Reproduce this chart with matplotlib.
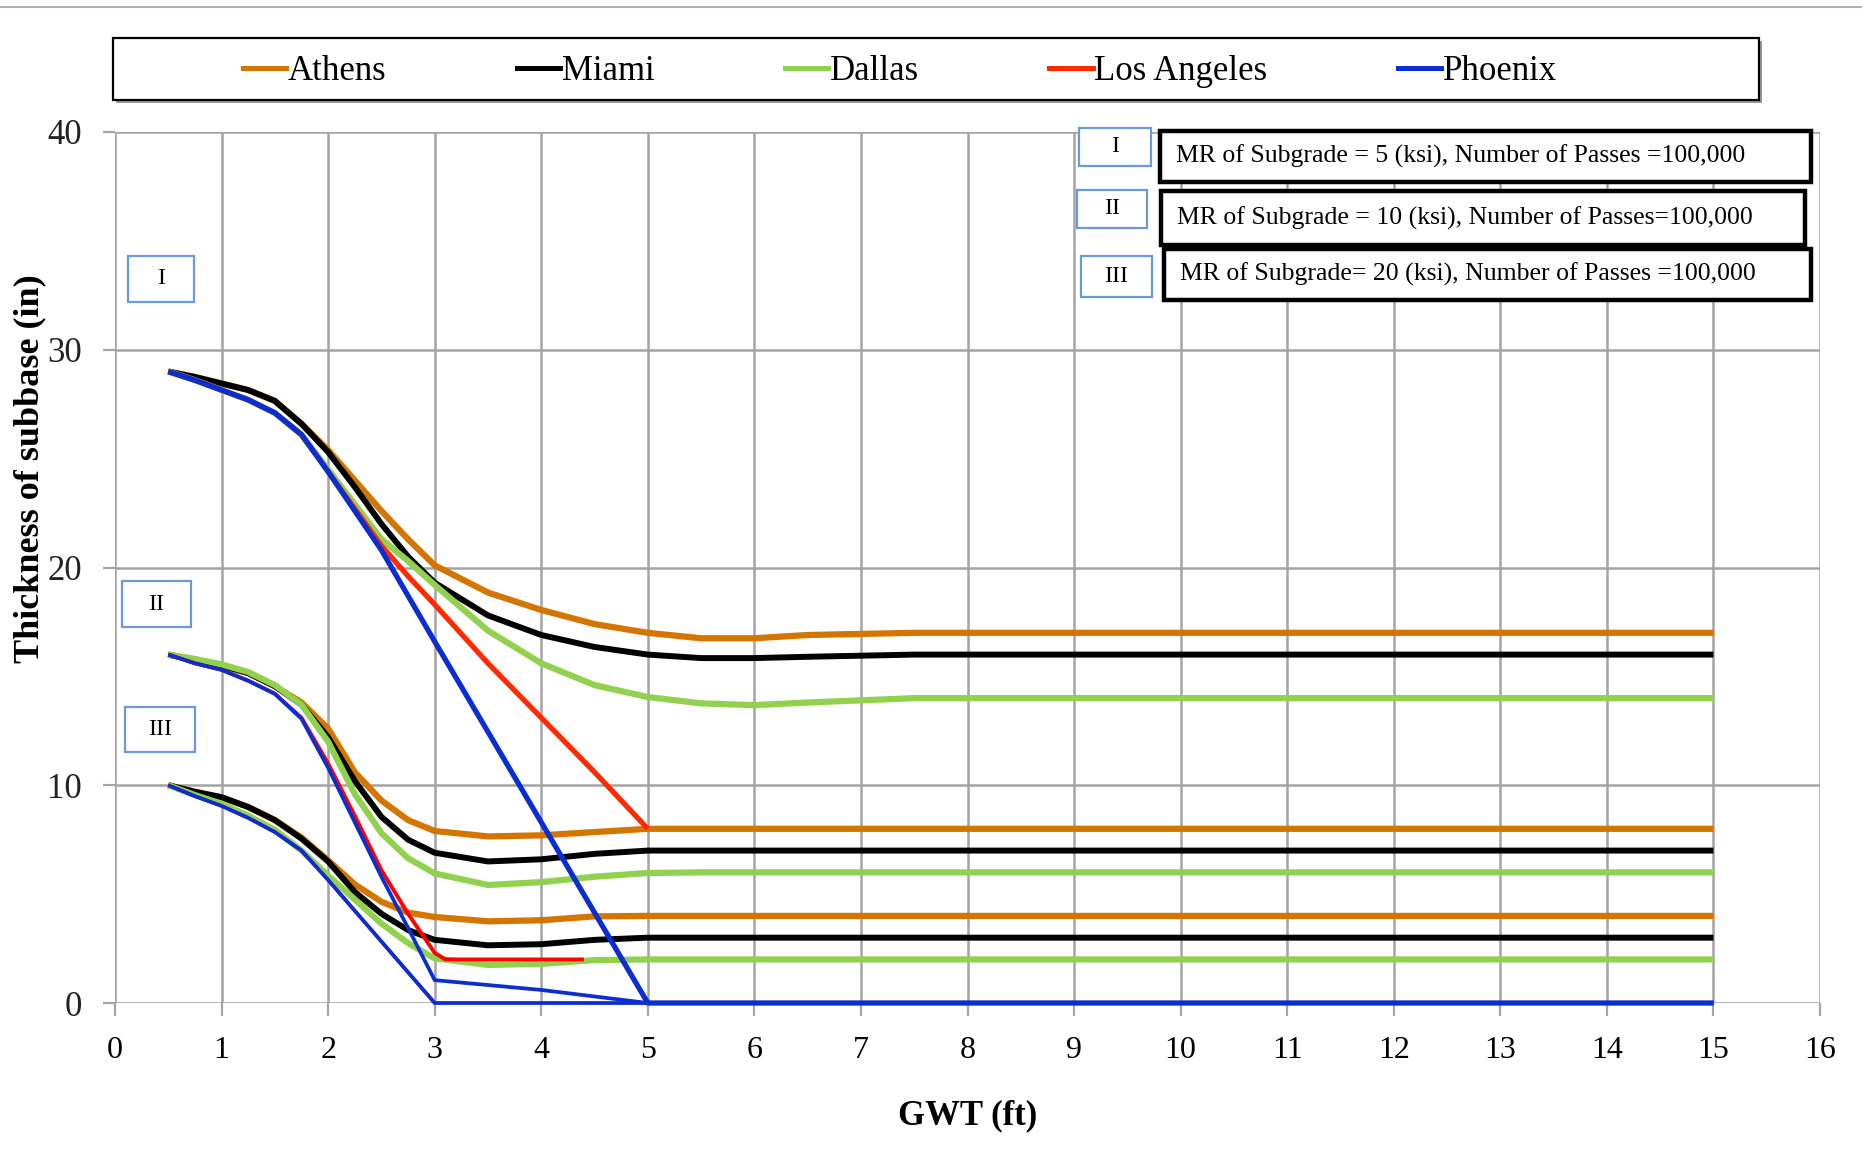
import matplotlib
matplotlib.use("Agg")
import matplotlib.pyplot as plt
from matplotlib.patches import Rectangle
from matplotlib.lines import Line2D

plt.rcParams['font.family'] = ['Liberation Serif', 'DejaVu Serif']

# ---------------- data ----------------
cities = ["Athens", "Miami", "Dallas", "Los Angeles", "Phoenix"]
colors = ["#D47500", "#000000", "#92D050", "#FF2A00", "#0A2ECF"]

x_curve = [0.5, 0.75, 1, 1.25, 1.5, 1.75, 2, 2.25, 2.5, 2.75, 3, 3.5, 4, 4.5, 5,
           5.5, 6, 6.5, 7, 7.5, 8, 15]

# Group I : MR = 5 ksi
athens_I = [29, 28.75, 28.45, 28.15, 27.65, 26.6, 25.4, 24.0, 22.6, 21.3, 20.1, 18.85, 18.05, 17.4, 17.0,
            16.75, 16.75, 16.9, 16.95, 17.0, 17.0, 17.0]
miami_I = [29, 28.75, 28.45, 28.15, 27.65, 26.6, 25.3, 23.7, 22.0, 20.5, 19.3, 17.8, 16.9, 16.35, 16.0,
           15.84, 15.84, 15.9, 15.95, 16.0, 16.0, 16.0]
dallas_I = [29, 28.6, 28.15, 27.7, 27.1, 26.1, 24.5, 22.9, 21.3, 20.3, 19.2, 17.1, 15.6, 14.6, 14.05,
            13.76, 13.68, 13.8, 13.9, 14.0, 14.0, 14.0]
x_la_I = [0.5, 0.75, 1, 1.25, 1.5, 1.75, 2, 2.25, 2.5, 2.75, 3, 3.5, 4, 4.5, 5]
la_I = [29, 28.6, 28.15, 27.7, 27.1, 26.1, 24.4, 22.7, 21.0, 19.6, 18.3, 15.6, 13.1, 10.6, 8.0]
x_ph_I = [0.5, 0.75, 1, 1.25, 1.5, 1.75, 2, 2.25, 2.5, 3, 4, 5, 15]
phoenix_I = [29, 28.6, 28.15, 27.7, 27.1, 26.1, 24.4, 22.6, 20.8, 16.6, 8.3, 0, 0]

# Group II : MR = 10 ksi
athens_II = [16, 15.75, 15.5, 15.15, 14.55, 13.8, 12.6, 10.6, 9.3, 8.4, 7.9, 7.65, 7.7, 7.85, 8.0,
             8, 8, 8, 8, 8, 8, 8]
miami_II = [16, 15.75, 15.5, 15.15, 14.55, 13.7, 12.2, 10.2, 8.55, 7.5, 6.9, 6.5, 6.6, 6.85, 7.0,
            7, 7, 7, 7, 7, 7, 7]
dallas_II = [16, 15.8, 15.55, 15.2, 14.6, 13.7, 12.0, 9.6, 7.8, 6.65, 5.95, 5.42, 5.55, 5.8, 5.97,
             6, 6, 6, 6, 6, 6, 6]
x_la_II = [0.5, 0.75, 1, 1.25, 1.5, 1.75, 2, 2.25, 2.5, 2.75, 3, 3.1, 4.4]
la_II = [16, 15.6, 15.3, 14.8, 14.2, 13.1, 11.0, 8.6, 6.1, 4.1, 2.3, 2.0, 2.0]
x_ph_II = [0.5, 0.75, 1, 1.25, 1.5, 1.75, 2, 2.25, 2.5, 2.75, 3, 4, 5, 15]
phoenix_II = [16, 15.6, 15.3, 14.8, 14.2, 13.05, 10.8, 8.3, 5.8, 3.45, 1.05, 0.6, 0, 0]

# Group III : MR = 20 ksi
athens_III = [10, 9.7, 9.45, 9.0, 8.4, 7.6, 6.55, 5.45, 4.65, 4.15, 3.95, 3.75, 3.8, 3.98, 4.0,
              4, 4, 4, 4, 4, 4, 4]
miami_III = [10, 9.7, 9.45, 9.0, 8.4, 7.55, 6.5, 5.1, 4.1, 3.35, 2.9, 2.65, 2.7, 2.9, 3.0,
             3, 3, 3, 3, 3, 3, 3]
dallas_III = [10, 9.55, 9.15, 8.6, 7.95, 7.0, 5.85, 4.75, 3.65, 2.75, 2.05, 1.75, 1.8, 1.97, 2.0,
              2, 2, 2, 2, 2, 2, 2]
x_la_III = [0.5, 0.75, 1, 1.25, 1.5, 1.75, 2, 3]
la_III = [10, 9.5, 9.05, 8.5, 7.85, 7.0, 5.65, 0]
x_ph_III = [0.5, 0.75, 1, 1.25, 1.5, 1.75, 2, 3, 15]
phoenix_III = [10, 9.5, 9.05, 8.5, 7.85, 7.0, 5.65, 0, 0]

x_ticks = list(range(0, 17))
y_ticks = [0, 10, 20, 30, 40]
group_labels = ["I", "II", "III"]
group_texts = ["MR of Subgrade = 5 (ksi), Number of Passes =100,000",
               "MR of Subgrade = 10 (ksi), Number of Passes=100,000",
               "MR of Subgrade= 20 (ksi), Number of Passes =100,000"]

# ---------------- figure ----------------
W, H = 1862, 1163
fig = plt.figure(figsize=(W / 100, H / 100), dpi=100)
ax = fig.add_axes([115 / W, 1 - 1003 / H, 1705 / W, 871 / H])
ax.set_xlim(0, 16)
ax.set_ylim(0, 40)
ax.set_xticks(x_ticks)
ax.set_yticks(y_ticks)
ax.grid(True, color="#a4a4a4", lw=1.8)
ax.set_axisbelow(True)
for s in ax.spines.values():
    s.set_visible(False)
ax.tick_params(axis="both", length=9, width=1.6, color="#a4a4a4", pad=15)
ax.tick_params(axis="x", labelsize=23)
ax.tick_params(axis="y", labelsize=25, labelcolor="#222222")

lw_main = 4.5
groups = [
    (athens_I, miami_I, dallas_I, (x_la_I, la_I), (x_ph_I, phoenix_I), 3.8, 3.8),
    (athens_II, miami_II, dallas_II, (x_la_II, la_II), (x_ph_II, phoenix_II), 2.8, 2.7),
    (athens_III, miami_III, dallas_III, (x_la_III, la_III), (x_ph_III, phoenix_III), 2.4, 2.7),
]
common = dict(solid_joinstyle="round", solid_capstyle="butt")
for gi, (a, m, d, la, ph, lw_la, lw_ph) in enumerate(groups):
    ax.plot(x_curve, a, color=colors[0], lw=lw_main, zorder=3, **common)
    ax.plot(x_curve, m, color=colors[1], lw=lw_main * 0.95, zorder=3, **common)
    ax.plot(x_curve, d, color=colors[2], lw=lw_main, zorder=3, **common)
    red = "#FF2A00" if gi == 0 else "#FF0000"
    ax.plot(la[0], la[1], color=red, lw=lw_la, zorder=4, clip_on=False, **common)
    ax.plot(ph[0], ph[1], color=colors[4], lw=lw_ph, zorder=5, clip_on=False, **common)

# axis labels
ax.set_xlabel("GWT (ft)", fontsize=25, fontweight="bold", va="center")
ax.xaxis.set_label_coords(0.5, (1003 - 1116) / 871)
ax.set_ylabel("Thickness of subbase (in)", fontsize=26, fontweight="bold", va="center")
ax.yaxis.set_label_coords((30 - 115) / 1705, (1003 - 469) / 871)

# ---------------- legend ----------------
def fig_rect(x0, y0, x1, y1, **kw):
    r = Rectangle((x0 / W, 1 - y1 / H), (x1 - x0) / W, (y1 - y0) / H,
                  transform=fig.transFigure, **kw)
    fig.add_artist(r)
    return r

fig_rect(116, 41, 1762, 103, facecolor="#9a9a9a", edgecolor="none", zorder=1)
fig_rect(113, 38, 1759, 100, facecolor="white", edgecolor="black", lw=1.6, zorder=2)
leg_handles = [Line2D([0], [0], color=c, lw=3.6) for c in colors]
leg = fig.legend(leg_handles, cities, ncol=5, loc="center",
                 bbox_to_anchor=(900 / W, 1 - 72 / H), bbox_transform=fig.transFigure,
                 frameon=False, handlelength=1.25, handletextpad=0.05, columnspacing=3.75,
                 prop={"size": 25, "family": "Liberation Serif"})
leg.set_zorder(3)

# top border line of the figure
fig.add_artist(Line2D([0, 1], [1 - 7 / H, 1 - 7 / H], transform=fig.transFigure,
                      color="#b0b0b0", lw=1.5))

# ---------------- annotation boxes ----------------
small_right = [(1079, 128, 1151, 166), (1077, 190, 1147, 228), (1081, 256, 1152, 297)]
big_right = [(1160, 131, 1811, 182), (1161, 191, 1805, 245), (1164, 249, 1811, 300)]
small_left = [(128, 256, 194, 302), (122, 581, 191, 627), (125, 707, 195, 752)]

for lbl, txt, sr, br, sl in zip(group_labels, group_texts, small_right, big_right, small_left):
    for (x0, y0, x1, y1) in (sr, sl):
        fig_rect(x0, y0, x1, y1, facecolor="white", edgecolor="#6C9AD8", lw=1.6, zorder=6)
        fig.text((x0 + x1) / 2 / W, 1 - (y0 + y1) / 2 / H, lbl, ha="center", va="center",
                 fontsize=17, zorder=7)
    x0, y0, x1, y1 = br
    fig_rect(x0, y0, x1, y1, facecolor="white", edgecolor="black", lw=3.2, zorder=6)
    fig.text((x0 + 16) / W, 1 - (y0 + y1) / 2 / H, txt, ha="left", va="center",
             fontsize=18.5, zorder=7)

fig.savefig("out.png", dpi=100)
